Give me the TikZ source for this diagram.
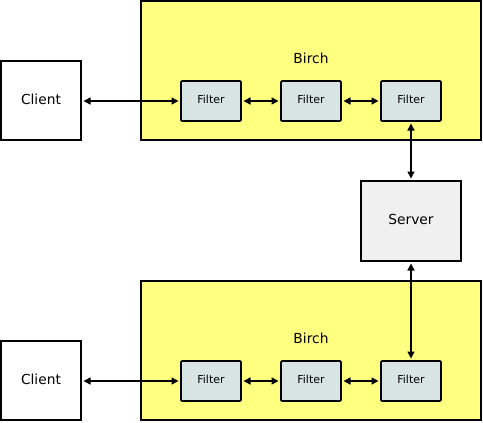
\documentclass[tikz,border=0pt]{standalone}
\usepackage{fontspec}
\setmainfont{DejaVu Sans}
\usetikzlibrary{arrows.meta}
\definecolor{birchfill}{HTML}{FFFF80}
\definecolor{filterfill}{HTML}{D8E4E4}
\definecolor{serverfill}{HTML}{F0F0F0}
\tikzset{
  box/.style={draw=black, line width=1.6pt, inner sep=0pt, outer sep=0pt},
  birchbox/.style={box, fill=birchfill, minimum width=340pt, minimum height=139pt},
  clientbox/.style={box, fill=white, minimum width=80pt, minimum height=79pt, text depth=3pt, font=\fontsize{13.8}{15}\selectfont},
  serverbox/.style={box, fill=serverfill, minimum width=100pt, minimum height=80pt, text depth=3pt, font=\fontsize{13.8}{15}\selectfont},
  filterbox/.style={box, fill=filterfill, rounded corners=1pt, minimum width=60pt, minimum height=40pt, text depth=2.5pt, font=\fontsize{11}{12}\selectfont},
  lbl/.style={font=\fontsize{13.8}{15}\selectfont},
  link/.style={line width=1.5pt, {Triangle[length=7pt,width=7pt]}-{Triangle[length=7pt,width=7pt]}, shorten <=2.5pt, shorten >=2.5pt}
}
\begin{document}
\begin{tikzpicture}[x=1pt,y=-1pt]
\useasboundingbox (0,0) rectangle (483,423);
% top
\node[birchbox] (birch1) at (311,70.5) {};
\node[lbl] (birchlbl1) at (311,58) {Birch};
\node[clientbox] (client1) at (41,100.5) {Client};
\node[filterbox] (f11) at (211,101) {Filter};
\node[filterbox] (f12) at (311,101) {Filter};
\node[filterbox] (f13) at (411,101) {Filter};
% server
\node[serverbox] (server) at (411,221) {Server};
% bottom
\node[birchbox] (birch2) at (311,350.5) {};
\node[lbl] (birchlbl2) at (311,338) {Birch};
\node[clientbox] (client2) at (41,380.5) {Client};
\node[filterbox] (f21) at (211,381) {Filter};
\node[filterbox] (f22) at (311,381) {Filter};
\node[filterbox] (f23) at (411,381) {Filter};
% connectors
\draw[link] (client1.east |- f11.west) -- (f11.west);
\draw[link] (f11) -- (f12);
\draw[link] (f12) -- (f13);
\draw[link] (f13.south) -- (server.north);
\draw[link] (server.south) -- (f23.north);
\draw[link] (client2.east |- f21.west) -- (f21.west);
\draw[link] (f21) -- (f22);
\draw[link] (f22) -- (f23);
\end{tikzpicture}
\end{document}
